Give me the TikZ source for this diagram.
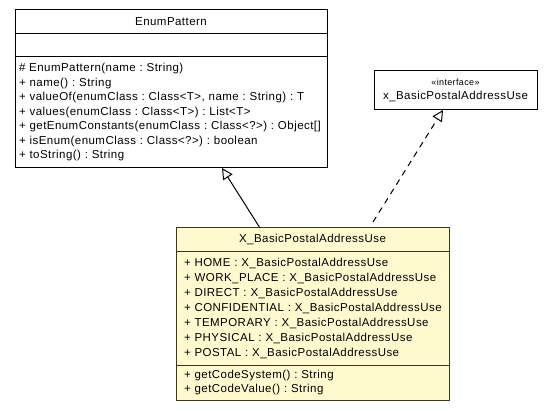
\documentclass[tikz,border=0pt]{standalone}
\usepackage{fontspec}
\setmainfont{Liberation Sans}[LetterSpace=4]
\usetikzlibrary{arrows.meta, positioning, calc}
\definecolor{classfill}{RGB}{255,249,208}
\definecolor{classline}{RGB}{60,56,20}
\newcommand{\umlfont}{\fontsize{11.5}{14.5}\selectfont}
\newcommand{\stereofont}{\fontsize{9}{13}\selectfont}
\frenchspacing

\begin{document}
\begin{tikzpicture}[
    x=1pt, y=-1pt,
    node distance=0pt,
    comp/.style={draw, line width=1pt, inner sep=0pt, outer sep=0pt, font=\umlfont},
    items/.style={comp, align=left, inner xsep=4pt},
    yellow/.style={fill=classfill, draw=classline},
    inherit/.style={-{Triangle[open, length=11pt, width=11pt]}, line width=1pt},
    realize/.style={inherit, dash pattern=on 6pt off 5pt}
  ]
  \useasboundingbox (0,0) rectangle (553,411);

  % EnumPattern class
  \node[comp, anchor=north west, minimum width=312, minimum height=24] (ephead) at (15,10) {EnumPattern};
  \node[comp, below=of ephead, minimum width=312, minimum height=23] (epattr) {};
  \node[items, below=of epattr, text width=304, minimum height=111] (epmeth) {%
    \# EnumPattern(name : String)\\
    + name() : String\\
    + valueOf(enumClass : Class<T>, name : String) : T\\
    + values(enumClass : Class<T>) : List<T>\\
    + getEnumConstants(enumClass : Class<?>) : Object[]\\
    + isEnum(enumClass : Class<?>) : boolean\\
    + toString() : String};

  % interface
  \node[comp, anchor=north west, align=center, minimum width=163, minimum height=39] (iface) at (374,71)
    {{\stereofont «interface»}\\x\_BasicPostalAddressUse};

  % X_BasicPostalAddressUse class
  \node[comp, yellow, anchor=north west, minimum width=273, minimum height=23] (xhead) at (176,228) {X\_BasicPostalAddressUse};
  \node[items, yellow, below=of xhead, text width=257, inner xsep=8pt, minimum height=114, font=\fontsize{11.5}{15}\selectfont] (xattr) {%
    + HOME : X\_BasicPostalAddressUse\\
    + WORK\_PLACE : X\_BasicPostalAddressUse\\
    + DIRECT : X\_BasicPostalAddressUse\\
    + CONFIDENTIAL : X\_BasicPostalAddressUse\\
    + TEMPORARY : X\_BasicPostalAddressUse\\
    + PHYSICAL : X\_BasicPostalAddressUse\\
    + POSTAL : X\_BasicPostalAddressUse};
  \node[items, yellow, below=of xattr, text width=257, inner xsep=8pt, minimum height=35] (xmeth) {%
    + getCodeSystem() : String\\
    + getCodeValue() : String};

  % relations
  \draw[inherit] ([xshift=84]xhead.north west) -- ([xshift=207]epmeth.south west);
  \draw[realize] ([xshift=197, yshift=6]xhead.north west) -- ([xshift=69]iface.south west);

\end{tikzpicture}
\end{document}
